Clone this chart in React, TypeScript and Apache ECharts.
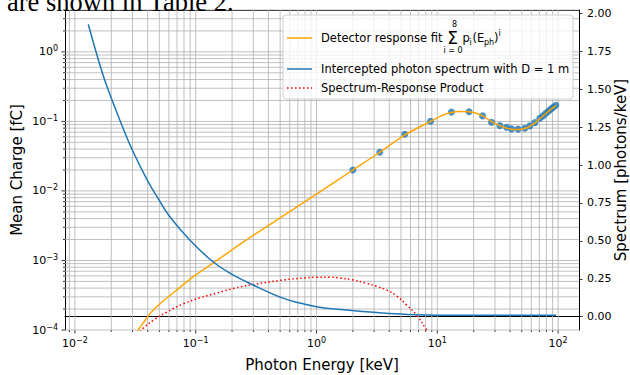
import React, { useEffect, useRef } from "react";
import * as echarts from "echarts";

// Detector response fit (left axis, mean charge in fC)
const fitEnergy = [0.0323, 0.0334, 0.03805, 0.04183, 0.04754, 0.0557, 0.0673, 0.0955, 0.1445, 0.263, 0.5, 1.0, 2.0, 3.34, 5.4, 8.8, 11, 13.1, 15.5, 18.3, 21, 23.7, 26, 28.1, 32.9, 37.4, 41.1, 46.6, 53, 58.3, 64.2, 70.6, 79.2, 87.1, 95.7];
const fitCharge = [8.5e-5, 1.0e-4, 1.37e-4, 1.72e-4, 2.16e-4, 2.75e-4, 3.58e-4, 5.85e-4, 9.6e-4, 1.97e-3, 4.1e-3, 9.0e-3, 0.02, 0.036, 0.064, 0.1, 0.122, 0.134, 0.139, 0.138, 0.131, 0.12, 0.109, 0.099, 0.087, 0.08, 0.077, 0.0765, 0.079, 0.085, 0.095, 0.11, 0.13, 0.149, 0.168];

// Measured points (left axis)
const measEnergy = [2.0, 3.34, 5.38, 8.79, 13.1, 18.3, 23.7, 28.1, 32.9, 37.4, 41.1, 46.6, 53, 58.3, 64.2, 70.6, 75, 79.2, 83, 87.1, 91, 95.7];
const measCharge = [0.02, 0.036, 0.0654, 0.1007, 0.136, 0.138, 0.12, 0.0974, 0.087, 0.0826, 0.078, 0.0775, 0.0798, 0.0862, 0.096, 0.111, 0.12, 0.131, 0.14, 0.15, 0.16, 0.171];

// Intercepted photon spectrum (right axis, photons/keV)
const specEnergy = [0.0129, 0.015, 0.018, 0.0251, 0.03, 0.04, 0.05, 0.06, 0.0893, 0.139, 0.2, 0.299, 0.5, 0.7, 1.0, 1.5, 2.59, 4, 6.7, 10, 20, 50, 96];
const specValue = [1.928, 1.743, 1.54, 1.241, 1.096, 0.896, 0.766, 0.667, 0.505, 0.362, 0.279, 0.209, 0.129, 0.093, 0.066, 0.049, 0.033, 0.021, 0.013, 0.01, 0.009, 0.009, 0.009];

// Spectrum-response product (left axis)
const prodEnergy = [0.033, 0.0367, 0.045, 0.0573, 0.08, 0.108, 0.15, 0.204, 0.299, 0.529, 0.8, 1.0, 1.3, 1.56, 2.0, 2.59, 3.2, 3.8, 4.6, 5.56, 6.73, 8.14, 9.0];
const prodValue = [0.85e-4, 1.06e-4, 1.4e-4, 1.8e-4, 2.4e-4, 2.9e-4, 3.4e-4, 3.95e-4, 4.5e-4, 5.24e-4, 5.6e-4, 5.73e-4, 5.75e-4, 5.6e-4, 5.25e-4, 4.7e-4, 4.2e-4, 3.77e-4, 3.1e-4, 2.3e-4, 1.64e-4, 1.0e-4, 0.75e-4];

// Axis ticks
const xDecades = [-3, -2, -1, 0, 1, 2];
const yDecades = [-4, -3, -2, -1, 0];
const minorSteps = [2, 3, 4, 5, 6, 7, 8, 9];
const rightTicks = [0, 0.25, 0.5, 0.75, 1.0, 1.25, 1.5, 1.75, 2.0];

const X_MIN = 0.00828;
const X_MAX = 148.9;
const Y_MIN = 1e-4;
const Y_MAX = 4.0;
const R_MIN = -0.0877;
const R_MAX = 2.022;

const FONT = "DejaVu Sans";
const GRID_COLOR = "#b0b0b0";

const zip = (a: number[], b: number[]) => a.map((v, i) => [v, b[i]]);

const supLabel = (v: number) => {
  const e = Math.round(Math.log10(v));
  const es = e < 0 ? "\u2212" + -e : String(e);
  return "{b|10}{s|" + es + "}";
};

export default function App() {
  const ref = useRef<HTMLDivElement>(null);

  useEffect(() => {
    if (!ref.current) return;
    const chart = echarts.init(ref.current, undefined, { renderer: "svg" });

    // grid line/tick data: [x, y, kind]
    const gridData: number[][] = [];
    xDecades.forEach((d) => {
      const major = Math.pow(10, d);
      if (major >= X_MIN && major <= X_MAX) gridData.push([major, 1, 0]);
      minorSteps.forEach((m) => {
        const v = m * Math.pow(10, d);
        if (v >= X_MIN && v <= X_MAX) gridData.push([v, 1, 1]);
      });
    });
    yDecades.forEach((d) => {
      const major = Math.pow(10, d);
      if (major >= Y_MIN && major <= Y_MAX) gridData.push([1, major, 2]);
      minorSteps.forEach((m) => {
        const v = m * Math.pow(10, d);
        if (v >= Y_MIN && v <= Y_MAX) gridData.push([1, v, 3]);
      });
    });

    const rich = {
      b: { fontFamily: FONT, fontSize: 11, color: "#000", lineHeight: 14 },
      s: { fontFamily: FONT, fontSize: 8, color: "#000", lineHeight: 7, verticalAlign: "top" },
    };

    const legendText = (text: string, x: number, y: number, size = 11.5, align = "left") => ({
      type: "text",
      x,
      y,
      z: 101,
      style: { text, fontFamily: FONT, fontSize: size, fill: "#000", align, verticalAlign: "middle" },
    });

    const option: any = {
      animation: false,
      backgroundColor: "#ffffff",
      grid: { left: 65, right: 51, top: 10, bottom: 45, containLabel: false, outerBoundsMode: "none" },
      xAxis: [
        {
          type: "log",
          logBase: 10,
          min: X_MIN,
          max: X_MAX,
          position: "bottom",
          name: "Photon Energy [keV]",
          nameLocation: "middle",
          nameGap: 27,
          nameMoveOverlap: false,
          nameTextStyle: { fontFamily: FONT, fontSize: 15, color: "#000" },
          axisLine: { show: true, lineStyle: { color: "#000", width: 1 } },
          axisTick: { show: false },
          splitLine: { show: false },
          minorTick: { show: false },
          axisLabel: {
            showMinLabel: false,
            showMaxLabel: false,
            margin: 6,
            formatter: (v: number) => supLabel(v),
            rich,
          },
        },
        {
          type: "log",
          logBase: 10,
          min: X_MIN,
          max: X_MAX,
          position: "top",
          axisLine: { show: true, lineStyle: { color: "#000", width: 1 } },
          axisTick: { show: false },
          axisLabel: { show: false },
          splitLine: { show: false },
        },
      ],
      yAxis: [
        {
          type: "log",
          logBase: 10,
          min: Y_MIN,
          max: Y_MAX,
          position: "left",
          name: "Mean Charge [fC]",
          nameLocation: "middle",
          nameGap: 41,
          nameMoveOverlap: false,
          nameRotate: 90,
          nameTextStyle: { fontFamily: FONT, fontSize: 15, color: "#000" },
          axisLine: { show: true, lineStyle: { color: "#000", width: 1 } },
          axisTick: { show: false },
          splitLine: { show: false },
          axisLabel: {
            showMinLabel: true,
            showMaxLabel: false,
            margin: 7,
            formatter: (v: number) => (Math.abs(Math.log10(v) - Math.round(Math.log10(v))) < 1e-6 ? supLabel(v) : ""),
            rich,
          },
        },
        {
          type: "value",
          min: R_MIN,
          max: R_MAX,
          position: "right",
          name: "Spectrum [photons/keV]",
          nameLocation: "middle",
          nameGap: 49,
          nameMoveOverlap: false,
          nameRotate: 90,
          nameTextStyle: { fontFamily: FONT, fontSize: 15, color: "#000", verticalAlign: "bottom" },
          axisLine: { show: true, lineStyle: { color: "#000", width: 1 } },
          axisTick: { show: true, customValues: rightTicks, length: 3.5, lineStyle: { color: "#000", width: 0.8 } },
          splitLine: { show: false },
          axisLabel: {
            customValues: rightTicks,
            margin: 8,
            fontFamily: FONT,
            fontSize: 11,
            color: "#000",
            formatter: (v: number) => v.toFixed(2),
          },
        },
      ],
      series: [
        {
          type: "custom",
          name: "grid",
          xAxisIndex: 0,
          yAxisIndex: 0,
          clip: false,
          z: 1,
          silent: true,
          data: gridData,
          renderItem: (params: any, api: any) => {
            const cs = params.coordSys;
            const kind = api.value(2);
            const p = api.coord([api.value(0), api.value(1)]);
            const st = { stroke: GRID_COLOR, lineWidth: 0.8 };
            const tk = { stroke: "#000", lineWidth: 0.8 };
            const bottom = cs.y + cs.height;
            if (kind === 0 || kind === 1) {
              const len = kind === 0 ? 3.5 : 2;
              return {
                type: "group",
                children: [
                  { type: "line", shape: { x1: p[0], y1: cs.y, x2: p[0], y2: bottom }, style: st },
                  { type: "line", shape: { x1: p[0], y1: bottom, x2: p[0], y2: bottom + len }, style: tk },
                ],
              };
            }
            const len = kind === 2 ? 3.5 : 2;
            return {
              type: "group",
              children: [
                { type: "line", shape: { x1: cs.x, y1: p[1], x2: cs.x + cs.width, y2: p[1] }, style: st },
                { type: "line", shape: { x1: cs.x - len, y1: p[1], x2: cs.x, y2: p[1] }, style: tk },
              ],
            };
          },
        },
        {
          type: "scatter",
          name: "measured",
          xAxisIndex: 0,
          yAxisIndex: 0,
          z: 2,
          symbol: "circle",
          symbolSize: 7,
          itemStyle: { color: "#1f77b4" },
          data: zip(measEnergy, measCharge),
        },
        {
          type: "line",
          name: "Detector response fit",
          xAxisIndex: 0,
          yAxisIndex: 0,
          z: 3,
          showSymbol: false,
          smooth: 0.3,
          lineStyle: { color: "#ffa500", width: 1.5 },
          data: zip(fitEnergy, fitCharge),
        },
        {
          type: "line",
          name: "Spectrum-Response Product",
          xAxisIndex: 0,
          yAxisIndex: 0,
          z: 3,
          showSymbol: false,
          smooth: 0.4,
          lineStyle: { color: "#ff0000", width: 1.5, type: [1.5, 2.5], cap: "butt" },
          data: zip(prodEnergy, prodValue),
        },
        {
          type: "line",
          name: "Intercepted photon spectrum with D = 1 m",
          xAxisIndex: 0,
          yAxisIndex: 1,
          z: 4,
          showSymbol: false,
          smooth: 0.4,
          lineStyle: { color: "#1f77b4", width: 1.5 },
          data: zip(specEnergy, specValue),
        },
      ],
      graphic: [
        {
          type: "text",
          x: 7,
          y: -12,
          z: 100,
          style: { text: "are shown in Table 2.", fontFamily: "Liberation Serif", fontSize: 26.5, fill: "#000" },
        },
        { type: "rect", z: 100, shape: { x: 283, y: 15, width: 290, height: 84, r: 3 }, style: { fill: "rgba(255,255,255,0.8)", stroke: "#d0d0d0", lineWidth: 1 } },
        { type: "line", z: 101, shape: { x1: 287, y1: 38, x2: 312, y2: 38 }, style: { stroke: "#ffa500", lineWidth: 1.5 } },
        { type: "line", z: 101, shape: { x1: 287, y1: 69, x2: 312, y2: 69 }, style: { stroke: "#1f77b4", lineWidth: 1.5 } },
        { type: "line", z: 101, shape: { x1: 287, y1: 88, x2: 312, y2: 88 }, style: { stroke: "#ff0000", lineWidth: 1.5, lineDash: [1.5, 2.5] } },
        legendText("Detector response fit", 321, 38),
        legendText("\u03A3", 452.5, 38, 17, "center"),
        legendText("8", 454.5, 24.5, 8, "center"),
        legendText("i = 0", 453, 50, 8, "center"),
        legendText("p", 462.5, 38),
        legendText("i", 469.5, 42, 8),
        legendText("(E", 472.5, 38),
        legendText("ph", 484, 42, 8),
        legendText(")", 494, 38),
        legendText("i", 498.5, 33, 8),
        legendText("Intercepted photon spectrum with D = 1 m", 321, 69),
        legendText("Spectrum-Response Product", 321, 88),
      ],
    };

    chart.setOption(option);
    return () => chart.dispose();
  }, []);

  return <div ref={ref} style={{ position: "absolute", left: 0, top: 0, width: 630, height: 375 }} />;
}
